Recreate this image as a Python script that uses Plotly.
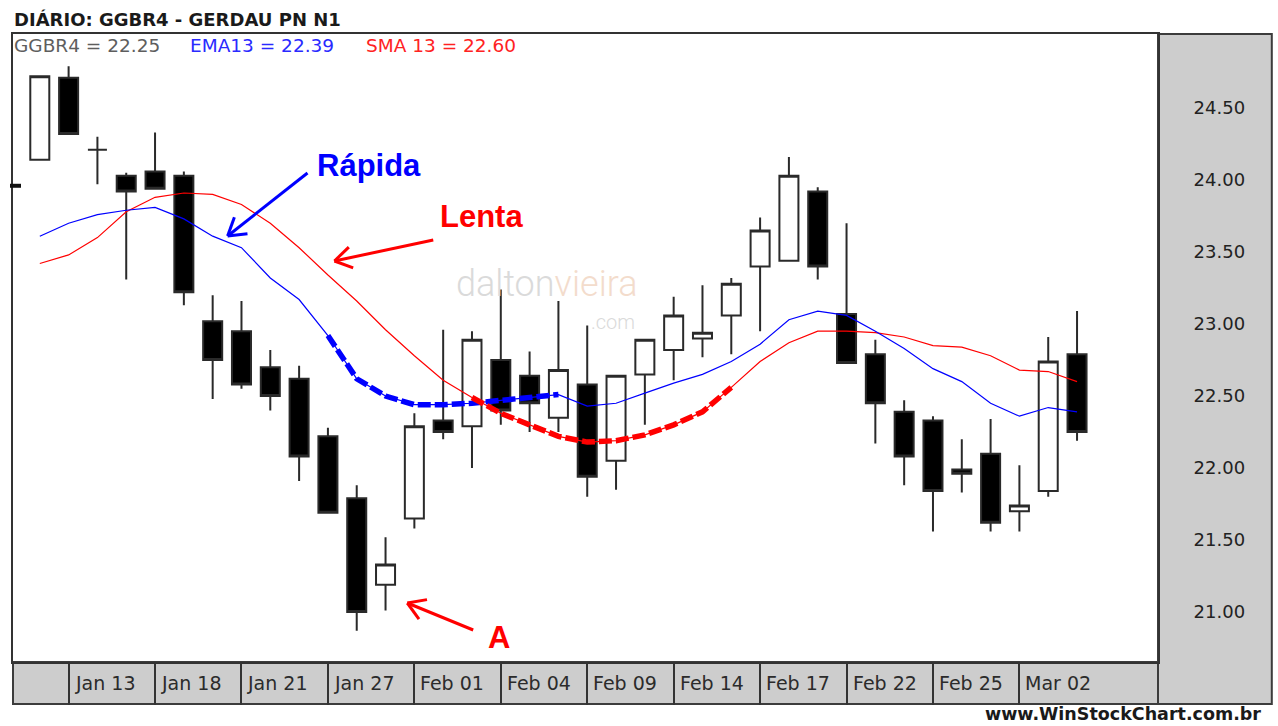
import math
import plotly.graph_objects as go

# ---------------- data ----------------
dates = ["2011-01-12", "2011-01-13", "2011-01-14", "2011-01-17", "2011-01-18", "2011-01-19",
         "2011-01-20", "2011-01-21", "2011-01-24", "2011-01-26", "2011-01-27", "2011-01-28",
         "2011-01-31", "2011-02-01", "2011-02-02", "2011-02-03", "2011-02-04", "2011-02-07",
         "2011-02-08", "2011-02-09", "2011-02-10", "2011-02-11", "2011-02-14", "2011-02-15",
         "2011-02-16", "2011-02-17", "2011-02-18", "2011-02-21", "2011-02-22", "2011-02-23",
         "2011-02-24", "2011-02-25", "2011-02-28", "2011-03-01", "2011-03-02", "2011-03-03",
         "2011-03-04"]

open_ = [24.14, 24.71, 24.21, 24.03, 24.06, 24.03, 23.02, 22.95, 22.70, 22.62, 22.22, 21.79,
         21.19, 21.65, 22.33, 22.29, 22.75, 22.64, 22.35, 22.58, 22.05, 22.65, 22.82, 22.90,
         23.06, 23.40, 23.44, 23.92, 23.07, 22.79, 22.39, 22.33, 21.99, 22.10, 21.70, 21.84,
         22.79]
high = [24.72, 24.79, 24.30, 24.05, 24.33, 24.06, 23.20, 23.16, 22.82, 22.71, 22.28, 21.88,
        21.52, 22.38, 22.96, 22.95, 23.24, 22.81, 23.16, 22.99, 22.64, 22.89, 23.19, 23.27,
        23.32, 23.74, 24.16, 23.95, 23.70, 22.89, 22.47, 22.36, 22.20, 22.34, 22.02, 22.91,
        23.09]
low = [24.14, 24.32, 23.97, 23.31, 23.94, 23.13, 22.48, 22.55, 22.40, 21.91, 21.69, 20.87,
       21.01, 21.58, 22.20, 22.00, 22.30, 22.25, 22.25, 21.80, 21.85, 22.30, 22.61, 22.77,
       22.79, 22.95, 23.44, 23.31, 22.73, 22.17, 21.88, 21.56, 21.83, 21.56, 21.56, 21.80,
       22.19]
close = [24.72, 24.32, 24.21, 23.92, 23.94, 23.22, 22.75, 22.58, 22.50, 22.08, 21.69, 21.00,
         21.33, 22.29, 22.25, 22.89, 22.40, 22.45, 22.68, 21.94, 22.64, 22.89, 23.06, 22.94,
         23.28, 23.65, 24.03, 23.40, 22.73, 22.45, 22.08, 21.84, 21.96, 21.62, 21.74, 22.74,
         22.25]

ema13 = [23.61, 23.70, 23.76, 23.79, 23.81, 23.73, 23.61, 23.53, 23.32, 23.17, 22.92, 22.62,
         22.50, 22.44, 22.44, 22.45, 22.47, 22.49, 22.51, 22.43, 22.45, 22.52, 22.59, 22.65,
         22.74, 22.86, 23.03, 23.09, 23.06, 22.95, 22.83, 22.69, 22.60, 22.45, 22.36, 22.42,
         22.39]
sma13 = [23.42, 23.48, 23.60, 23.78, 23.88, 23.91, 23.90, 23.83, 23.70, 23.53, 23.34, 23.16,
         22.96, 22.78, 22.61, 22.49, 22.38, 22.30, 22.22, 22.18, 22.19, 22.23, 22.30, 22.39,
         22.56, 22.74, 22.87, 22.95, 22.95, 22.94, 22.91, 22.85, 22.84, 22.78, 22.68, 22.67,
         22.60]

label_dates = ["2011-01-13", "2011-01-18", "2011-01-21", "2011-01-27", "2011-02-01", "2011-02-04",
               "2011-02-09", "2011-02-14", "2011-02-17", "2011-02-22", "2011-02-25", "2011-03-02"]
label_text = ["Jan 13", "Jan 18", "Jan 21", "Jan 27", "Feb 01", "Feb 04",
              "Feb 09", "Feb 14", "Feb 17", "Feb 22", "Feb 25", "Mar 02"]

price_ticks = [21.00, 21.50, 22.00, 22.50, 23.00, 23.50, 24.00, 24.50]

ema_highlight = (10, 18)   # index range drawn thick/dashed (fast MA)
sma_highlight = (15, 24)   # index range drawn thick/dashed (slow MA)
left_marker_price = 23.96

# ---------------- layout geometry (pixels) ----------------
W, H = 1278, 726
PL, PR, PT, PB = 11, 1158, 34, 662
OUT_R, OUT_B = 1272, 704


def px(x):
    return (x - PL) / (PR - PL)


def py(y):
    return (PB - y) / (PB - PT)


x = list(range(len(dates)))
label_idx = [dates.index(d) for d in label_dates]

fig = go.Figure()

fig.add_trace(go.Candlestick(
    x=x, open=open_, high=high, low=low, close=close,
    increasing=dict(fillcolor="#ffffff", line=dict(color="#2a2a2a", width=2)),
    decreasing=dict(fillcolor="#000000", line=dict(color="#2a2a2a", width=2)),
    whiskerwidth=0, showlegend=False, hoverinfo="skip"))

fig.add_trace(go.Scatter(x=x, y=sma13, mode="lines",
                         line=dict(color="#ff0000", width=1.2), showlegend=False))
fig.add_trace(go.Scatter(x=x, y=ema13, mode="lines",
                         line=dict(color="#0000ff", width=1.2), showlegend=False))

a, b = ema_highlight
fig.add_trace(go.Scatter(x=x[a:b + 1], y=ema13[a:b + 1], mode="lines",
                         line=dict(color="#0000ff", width=5.5, dash="13px,4px"), showlegend=False))
a, b = sma_highlight
fig.add_trace(go.Scatter(x=x[a:b + 1], y=sma13[a:b + 1], mode="lines",
                         line=dict(color="#ff0000", width=5.5, dash="13px,4px"), showlegend=False))

shapes = []
# gray axis panels
shapes.append(dict(type="rect", xref="paper", yref="paper", layer="below",
                   x0=px(PR), x1=px(OUT_R), y0=py(OUT_B), y1=py(PT),
                   fillcolor="#cdcdcd", line=dict(color="#3c3c3c", width=2)))
shapes.append(dict(type="rect", xref="paper", yref="paper", layer="below",
                   x0=px(PL), x1=px(PR), y0=py(OUT_B), y1=py(PB),
                   fillcolor="#cdcdcd", line=dict(color="#3c3c3c", width=2)))
# small price marker at left edge
shapes.append(dict(type="line", xref="paper", yref="y", x0=px(8), x1=px(19),
                   y0=left_marker_price, y1=left_marker_price,
                   line=dict(color="#111111", width=4)))


def arrow(tail, head, color, width=3, arm=20, ang=32):
    tx, ty = tail
    hx, hy = head
    shapes.append(dict(type="line", xref="paper", yref="paper",
                       x0=px(tx), y0=py(ty), x1=px(hx), y1=py(hy),
                       line=dict(color=color, width=width)))
    th = math.atan2(ty - hy, tx - hx)
    for s in (1, -1):
        t2 = th + s * math.radians(ang)
        ex, ey = hx + arm * math.cos(t2), hy + arm * math.sin(t2)
        shapes.append(dict(type="line", xref="paper", yref="paper",
                           x0=px(hx), y0=py(hy), x1=px(ex), y1=py(ey),
                           line=dict(color=color, width=width)))


arrow((306, 173), (226, 236), "#0000ff")
arrow((432, 240), (333, 261), "#ff0000")
arrow((472, 630), (406, 603), "#ff0000")

annotations = []
# date labels
for i, t in zip(label_idx, label_text):
    annotations.append(dict(x=i, xref="x", y=py(683), yref="paper", text=t,
                            xanchor="left", yanchor="middle", xshift=4, showarrow=False,
                            font=dict(family="DejaVu Sans", size=19, color="#2b2b2b")))

annotations += [
    dict(x=px(10), y=py(20), xref="paper", yref="paper", text="<b>DIÁRIO: GGBR4 - GERDAU PN N1</b>",
         xanchor="left", yanchor="middle", showarrow=False,
         font=dict(family="DejaVu Sans", size=18, color="#1a1a1a")),
    dict(x=px(10), y=py(45), xref="paper", yref="paper", text="GGBR4 = 22.25",
         xanchor="left", yanchor="middle", showarrow=False,
         font=dict(family="DejaVu Sans", size=18.5, color="#5e5e5e")),
    dict(x=px(186), y=py(45), xref="paper", yref="paper", text="EMA13 = 22.39",
         xanchor="left", yanchor="middle", showarrow=False,
         font=dict(family="DejaVu Sans", size=18.5, color="#2a2aff")),
    dict(x=px(363), y=py(45), xref="paper", yref="paper", text="SMA 13 = 22.60",
         xanchor="left", yanchor="middle", showarrow=False,
         font=dict(family="DejaVu Sans", size=18.5, color="#ff2222")),
    dict(x=px(1263), y=py(714), xref="paper", yref="paper", text="<b>www.WinStockChart.com.br</b>",
         xanchor="right", yanchor="middle", showarrow=False,
         font=dict(family="DejaVu Sans", size=17.5, color="#1a1a1a")),
    dict(x=px(314), y=py(166), xref="paper", yref="paper", text="<b>Rápida</b>",
         xanchor="left", yanchor="middle", showarrow=False,
         font=dict(family="Liberation Sans", size=31, color="#0000ff")),
    dict(x=px(437), y=py(216), xref="paper", yref="paper", text="<b>Lenta</b>",
         xanchor="left", yanchor="middle", showarrow=False,
         font=dict(family="Liberation Sans", size=31, color="#ff0000")),
    dict(x=px(485), y=py(637), xref="paper", yref="paper", text="<b>A</b>",
         xanchor="left", yanchor="middle", showarrow=False,
         font=dict(family="Liberation Sans", size=31, color="#ff0000")),
    dict(x=px(545), y=py(284), xref="paper", yref="paper",
         text="dalton<span style='color:#f3dccc'>vieira</span>",
         xanchor="center", yanchor="middle", showarrow=False,
         font=dict(family="Roboto", size=36, color="#dadada", weight=300)),
    dict(x=px(636), y=py(322), xref="paper", yref="paper", text=".com",
         xanchor="right", yanchor="middle", showarrow=False,
         font=dict(family="Roboto", size=20, color="#dadada", weight=300)),
]

fig.update_layout(
    width=W, height=H, autosize=False,
    margin=dict(l=PL, r=W - PR, t=PT, b=H - PB, pad=0),
    paper_bgcolor="#ffffff", plot_bgcolor="#ffffff",
    boxgap=0.34, boxgroupgap=0,
    shapes=shapes, annotations=annotations,
    xaxis=dict(range=[-0.93, 38.81], showgrid=False, zeroline=False,
               showline=True, linecolor="#333333", linewidth=2, mirror=True,
               tickmode="array", tickvals=label_idx, ticks="outside", ticklen=41,
               tickwidth=2, tickcolor="#333333", showticklabels=False,
               rangeslider=dict(visible=False), fixedrange=True),
    yaxis=dict(range=[20.653, 25.014], side="right", showgrid=False, zeroline=False,
               showline=True, linecolor="#333333", linewidth=2, mirror=True,
               tickmode="array", tickvals=price_ticks,
               ticktext=[f"{v:.2f}" for v in price_ticks], ticks="",
               ticklabelstandoff=30,
               tickfont=dict(family="DejaVu Sans", size=18, color="#222222"),
               fixedrange=True),
    hovermode=False,
)

fig.write_html("out.html", config={"displayModeBar": False},
               post_script="document.body.style.margin='0px';")
